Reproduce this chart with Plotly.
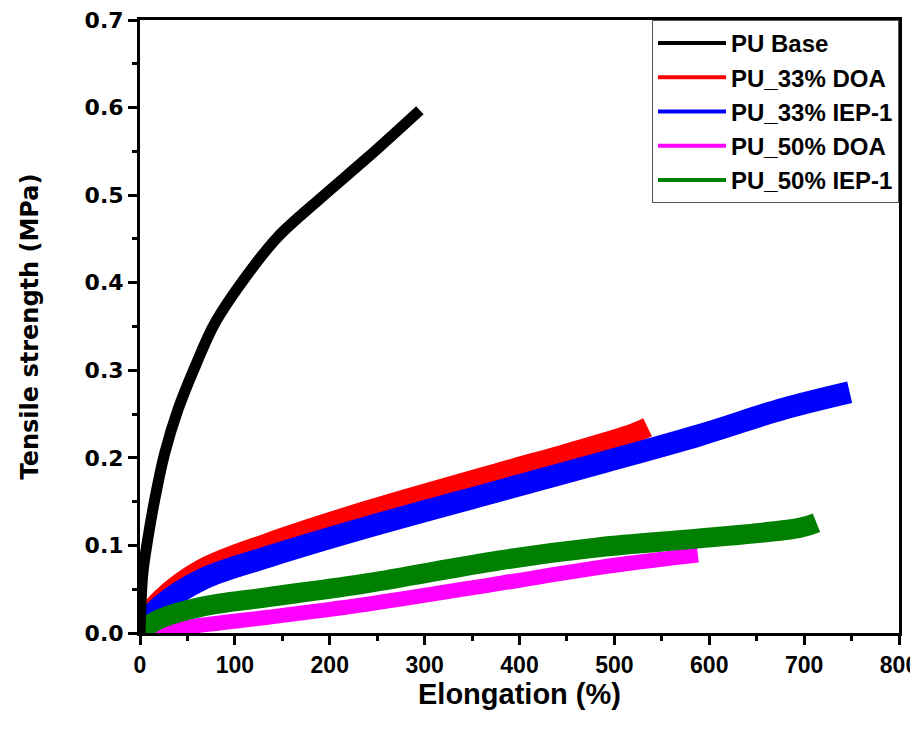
import plotly.graph_objects as go

# stress-strain curves (centre of each noisy band)
elong_base = [0, 3, 8, 16, 26, 40, 58, 79, 111, 145, 192, 240, 295]
ts_base = [0, 0.068, 0.106, 0.155, 0.205, 0.255, 0.304, 0.354, 0.406, 0.452, 0.498, 0.543, 0.597]

elong_doa33 = [0, 23, 65, 135, 240, 381, 450, 520, 535]
ts_doa33 = [0.01, 0.040, 0.073, 0.103, 0.140, 0.184, 0.205, 0.228, 0.235]

elong_iep33 = [0, 23, 65, 135, 240, 381, 485, 590, 678, 748]
ts_iep33 = [0.005, 0.032, 0.061, 0.087, 0.121, 0.163, 0.194, 0.226, 0.256, 0.275]

elong_doa50 = [0, 23, 65, 135, 240, 381, 485, 588]
ts_doa50 = [0, 0.002, 0.009, 0.018, 0.033, 0.057, 0.075, 0.089]

elong_iep50 = [0, 23, 65, 135, 240, 379, 485, 590, 695, 713]
ts_iep50 = [0.003, 0.017, 0.030, 0.041, 0.057, 0.083, 0.098, 0.108, 0.120, 0.126]

names = ["PU Base", "PU_33% DOA", "PU_33% IEP-1", "PU_50% DOA", "PU_50% IEP-1"]
colors = ["black", "red", "blue", "magenta", "green"]

fig = go.Figure()

# draw order: coloured bands first, black on top
series = [
    (elong_doa33, ts_doa33, "red", 20),
    (elong_iep33, ts_iep33, "blue", 22),
    (elong_doa50, ts_doa50, "magenta", 15),
    (elong_iep50, ts_iep50, "green", 20),
    (elong_base, ts_base, "black", 11),
]
for xs, ys, c, w in series:
    fig.add_trace(go.Scatter(x=xs, y=ys, mode="lines", showlegend=False,
                             line=dict(color=c, width=w, shape="spline"),
                             hoverinfo="skip"))

# legend entries with thin line samples
for i, (n, c) in enumerate(zip(names, colors)):
    fig.add_trace(go.Scatter(x=[None], y=[None], mode="lines", name=n,
                             line=dict(color=c, width=4), legendrank=i + 1))

axfont = dict(family="Liberation Sans, Arial", size=23, color="black", weight="bold")
yfont = dict(family="DejaVu Sans", size=22, color="black", weight="bold")

# page body has an 8px margin, so margins are shifted to put the frame where the original has it
fig.update_layout(
    width=918, height=731,
    margin=dict(l=132, r=27, t=12, b=106),
    plot_bgcolor="white", paper_bgcolor="white",
    legend=dict(x=1, xanchor="right", y=1, yanchor="top",
                bordercolor="#555", borderwidth=1, bgcolor="white",
                font=dict(family="Liberation Sans, Arial", size=24, color="black", weight="bold"),
                itemwidth=68, tracegroupgap=0),
    xaxis=dict(range=[0, 800], dtick=100, ticks="outside", ticklen=9, tickwidth=3,
               linecolor="black", linewidth=3, mirror=True, showgrid=False, zeroline=False,
               automargin=False, ticklabeloverflow="allow",
               minor=dict(dtick=50, ticks="outside", ticklen=5, tickwidth=3, tickcolor="black"),
               tickcolor="black", tickfont=axfont,
               title=dict(text="Elongation (%)", standoff=0,
                          font=dict(family="Liberation Sans, Arial", size=29, color="black", weight="bold"))),
    yaxis=dict(range=[0, 0.7], dtick=0.1, tickformat=".1f", ticks="outside", ticklen=9, tickwidth=3,
               linecolor="black", linewidth=3, mirror=True, showgrid=False, zeroline=False,
               automargin=False, ticklabeloverflow="allow",
               minor=dict(dtick=0.05, ticks="outside", ticklen=5, tickwidth=3, tickcolor="black"),
               tickcolor="black", tickfont=yfont,
               title=dict(text="Tensile strength (MPa)", standoff=40,
                          font=dict(family="DejaVu Sans", size=24, color="black", weight="bold"))),
)

fig.write_html("out.html")
